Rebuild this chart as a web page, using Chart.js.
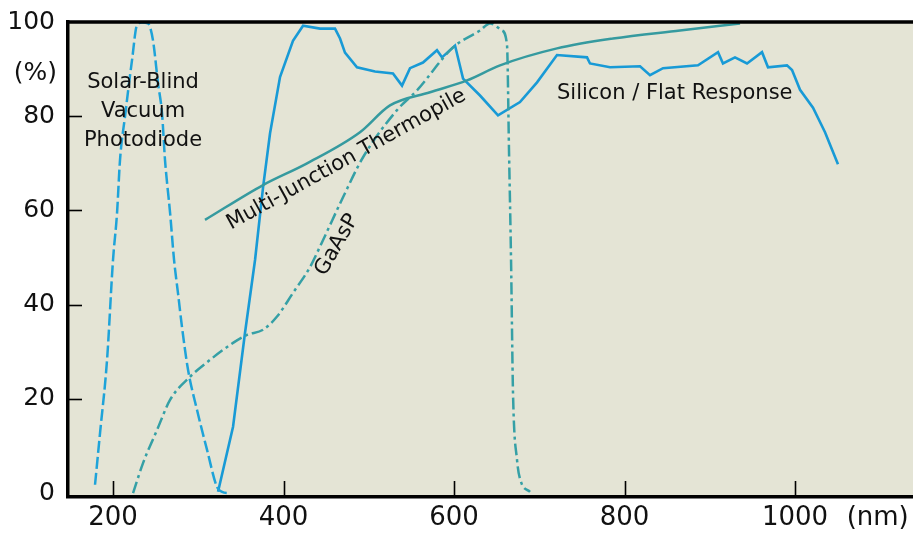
<!DOCTYPE html>
<html>
<head>
<meta charset="utf-8">
<script src="https://cdn.jsdelivr.net/npm/chart.js@4/dist/chart.umd.min.js"></script>
<style>
  html, body { margin: 0; padding: 0; background: #fff; }
  canvas { display: block; }
</style>
</head>
<body>
<canvas id="c" width="913" height="533"></canvas>
<script>
// Axis ticks
const xTickValues = [200, 400, 600, 800, 1000];
const yTickValues = [0, 20, 40, 60, 80, 100];

// Solar-blind vacuum photodiode (relative response, %)
const solarNm  = [178.9, 184.8, 193.0, 200.0, 204.7, 208.2, 214.1, 222.3, 228.2, 234.0, 241.0, 246.9, 252.8, 257.5, 261.0, 267.0, 271.6, 276.2, 280.9, 288.0, 298.5, 310.3, 322.0, 327.9, 337.2];
const solarPct = [1.8, 12.8, 28.3, 49.5, 59.4, 70.7, 80.0, 91.9, 99.4, 99.9, 99.7, 96.1, 87.0, 80.6, 70.7, 59.4, 49.5, 42.5, 35.3, 26.2, 17.7, 9.2, 1.3, 0.3, 0.0];

// Silicon / flat response
const siliconNm  = [323.2, 340.8, 354.8, 366.6, 376.0, 384.2, 395.9, 411.1, 422.9, 442.8, 460.4, 466.3, 472.1, 486.2, 507.3, 528.4, 539.0, 548.4, 563.6, 580.0, 585.9, 601.2, 610.6, 630.5, 651.6, 677.4, 697.4, 720.8, 756.0, 759.5, 783.0, 818.2, 829.9, 845.2, 886.2, 909.7, 915.5, 929.6, 943.7, 961.3, 968.3, 990.6, 996.5, 1005.9, 1021.1, 1035.2, 1050.4];
const siliconPct = [0.3, 14.1, 34.0, 49.5, 64.9, 76.4, 88.3, 96.0, 99.2, 98.6, 98.6, 96.5, 93.5, 90.4, 89.5, 89.1, 86.5, 90.2, 91.4, 94.0, 92.5, 95.0, 88.0, 84.4, 80.2, 83.0, 87.2, 93.0, 92.5, 91.2, 90.4, 90.6, 88.7, 90.2, 90.8, 93.6, 91.2, 92.5, 91.2, 93.6, 90.4, 90.8, 89.8, 85.6, 81.8, 76.6, 69.8];

// Multi-junction thermopile
const thermoNm  = [307.9, 376.0, 427.6, 489.7, 524.9, 571.9, 615.2, 654.0, 720.8, 786.5, 865.1, 935.5];
const thermoPct = [58.0, 65.4, 70.0, 76.6, 82.3, 85.1, 87.6, 90.8, 94.4, 96.5, 98.2, 99.7];

// GaAsP photodiode
const gaaspNm  = [223.5, 235.2, 251.6, 266.9, 290.3, 313.8, 340.8, 357.2, 376.0, 392.4, 411.1, 431.1, 446.3, 469.8, 493.3, 533.1, 556.6, 598.8, 630.5, 642.2, 656.3, 662.2, 664.5, 666.9, 669.2, 673.9, 678.6, 689.2];
const gaaspPct = [0.0, 6.4, 13.4, 19.8, 24.7, 28.3, 31.9, 33.6, 34.7, 37.5, 42.5, 48.0, 53.7, 62.8, 71.3, 81.3, 85.5, 94.6, 98.2, 99.7, 98.2, 95.0, 72.8, 49.5, 21.3, 7.1, 2.4, 0.3];

const pts = (xs, ys) => xs.map((x, i) => ({ x: x, y: ys[i] }));

const FONT = '"DejaVu Sans", "Liberation Sans", Arial, sans-serif';
const PLOT_BG = '#e4e4d5';

// Curve captions, anchored in data coordinates
const captions = [
  { text: 'Solar-Blind', nm: 235.2, pct: 86.0, align: 'center', angle: 0 },
  { text: 'Vacuum',      nm: 235.2, pct: 79.8, align: 'center', angle: 0 },
  { text: 'Photodiode',  nm: 235.2, pct: 73.6, align: 'center', angle: 0 },
  { text: 'Silicon / Flat Response', nm: 720.8, pct: 83.7, align: 'left', angle: 0 },
  { text: 'Multi-Junction Thermopile', nm: 338.5, pct: 55.9, align: 'left', angle: -29 },
  { text: 'GaAsP', nm: 462.8, pct: 52.7, align: 'center', angle: -60, baseline: 'middle' }
];

const frame = {
  id: 'frame',
  beforeDraw(chart) {
    const { ctx, chartArea: a } = chart;
    ctx.save();
    ctx.fillStyle = '#fff';
    ctx.fillRect(0, 0, chart.width, chart.height);
    ctx.fillStyle = PLOT_BG;
    ctx.fillRect(a.left, a.top, a.right - a.left, a.bottom - a.top);
    ctx.restore();
  },
  afterDraw(chart) {
    const { ctx, chartArea: a, scales } = chart;
    const xs = scales.x, ys = scales.y;
    ctx.save();
    ctx.strokeStyle = '#000';
    // inward tick marks
    ctx.lineWidth = 1.6;
    xTickValues.forEach(v => {
      const px = Math.round(xs.getPixelForValue(v)) + 0.5;
      ctx.beginPath(); ctx.moveTo(px, a.bottom); ctx.lineTo(px, a.bottom - 16); ctx.stroke();
    });
    yTickValues.filter(v => v > 0 && v < 100).forEach(v => {
      const py = Math.round(ys.getPixelForValue(v)) + 0.5;
      ctx.beginPath(); ctx.moveTo(a.left, py); ctx.lineTo(a.left + 14, py); ctx.stroke();
    });
    // top frame line
    ctx.lineWidth = 3.5;
    ctx.beginPath(); ctx.moveTo(a.left - 1.5, a.top); ctx.lineTo(a.right, a.top); ctx.stroke();

    // unit labels
    ctx.fillStyle = '#111';
    ctx.font = '25px ' + FONT;
    ctx.textAlign = 'right'; ctx.textBaseline = 'middle';
    ctx.fillText('(%)', a.left - 11, ys.getPixelForValue(89));
    ctx.font = '26px ' + FONT;
    ctx.textAlign = 'center';
    ctx.fillText('(nm)', xs.getPixelForValue(1097), a.bottom + 21);

    // curve captions
    ctx.font = '21px ' + FONT;
    captions.forEach(c => {
      ctx.save();
      ctx.translate(xs.getPixelForValue(c.nm), ys.getPixelForValue(c.pct));
      ctx.rotate(c.angle * Math.PI / 180);
      ctx.textAlign = c.align;
      ctx.textBaseline = c.baseline || 'alphabetic';
      ctx.fillText(c.text, 0, 0);
      ctx.restore();
    });
    ctx.restore();
  }
};

new Chart(document.getElementById('c'), {
  type: 'line',
  data: {
    datasets: [
      { label: 'Solar-Blind Vacuum Photodiode', data: pts(solarNm, solarPct),
        borderColor: '#1ea3d9', borderWidth: 2.5, borderDash: [12, 4], cubicInterpolationMode: 'monotone' },
      { label: 'GaAsP', data: pts(gaaspNm, gaaspPct),
        borderColor: '#35a0a6', borderWidth: 2.5, borderDash: [12, 4, 3, 4], cubicInterpolationMode: 'monotone' },
      { label: 'Multi-Junction Thermopile', data: pts(thermoNm, thermoPct),
        borderColor: '#359a9f', borderWidth: 2.5, cubicInterpolationMode: 'monotone' },
      { label: 'Silicon / Flat Response', data: pts(siliconNm, siliconPct),
        borderColor: '#189ad6', borderWidth: 2.6, tension: 0 }
    ]
  },
  options: {
    responsive: false,
    animation: false,
    events: [],
    layout: { padding: { top: 22, left: 0, right: 0, bottom: 0 } },
    elements: { point: { radius: 0 } },
    plugins: { legend: { display: false }, tooltip: { enabled: false } },
    scales: {
      x: {
        type: 'linear', min: 147.2, max: 1138.4,
        afterBuildTicks: s => { s.ticks = xTickValues.map(v => ({ value: v })); },
        afterFit: s => { s.height = 36; s.paddingLeft = 0; s.paddingRight = 0; },
        grid: { display: false, drawTicks: false },
        border: { display: true, color: '#000', width: 3.5 },
        ticks: { autoSkip: false, maxRotation: 0, padding: 6, color: '#111',
                 font: { family: FONT, size: 26 }, callback: v => String(v) }
      },
      y: {
        type: 'linear', min: -0.8, max: 100,
        afterBuildTicks: s => { s.ticks = yTickValues.map(v => ({ value: v })); },
        afterFit: s => { s.width = 68; s.paddingTop = 0; s.paddingBottom = 0; },
        grid: { display: false, drawTicks: false },
        border: { display: true, color: '#000', width: 3.5 },
        ticks: { padding: 13, color: '#111', font: { family: FONT, size: 25 }, callback: v => String(v) }
      }
    }
  },
  plugins: [frame]
});
</script>
</body>
</html>
